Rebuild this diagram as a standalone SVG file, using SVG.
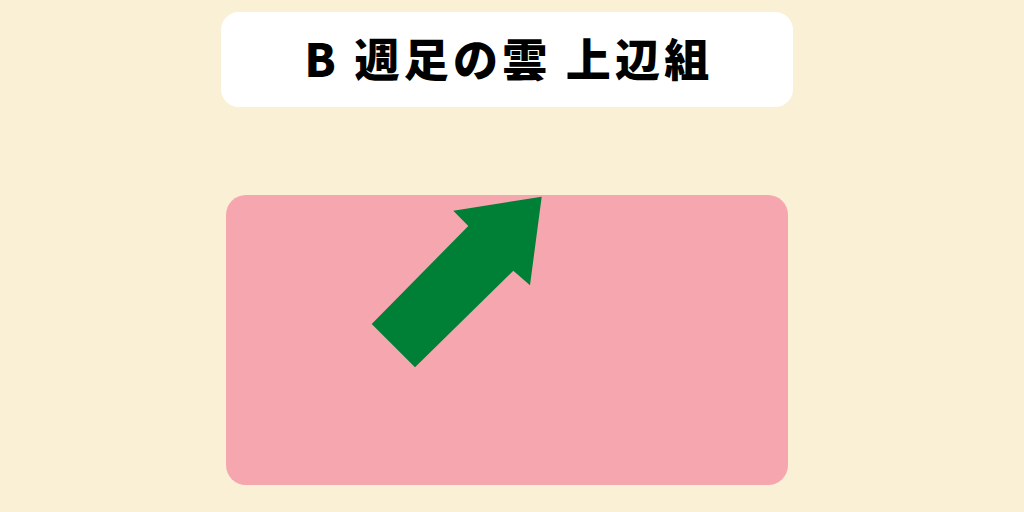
<svg xmlns="http://www.w3.org/2000/svg" width="1024" height="512" viewBox="0 0 1024 512">
<style>
.title{font-family:"Noto Sans CJK JP","Noto Sans",sans-serif;font-weight:900;font-size:45px;letter-spacing:4.2px;fill:#000;}
</style>
<rect width="1024" height="512" fill="#FAF0D5"/>
<g id="title">
<rect x="221" y="12" width="572" height="95" rx="18" fill="#FFFFFF"/>
<text class="title" x="509" y="77" text-anchor="middle">B 週足の雲 上辺組</text>
</g>
<g id="panel">
<rect x="226" y="195" width="562" height="290" rx="20" fill="#F6A6AE"/>
</g>
<g id="arrow">
<polygon points="541.7,196.7 453.3,210.7 468.3,226 371.7,324 415,367.3 513.3,270.7 530,285.3" fill="#007F37"/>
</g>
</svg>
